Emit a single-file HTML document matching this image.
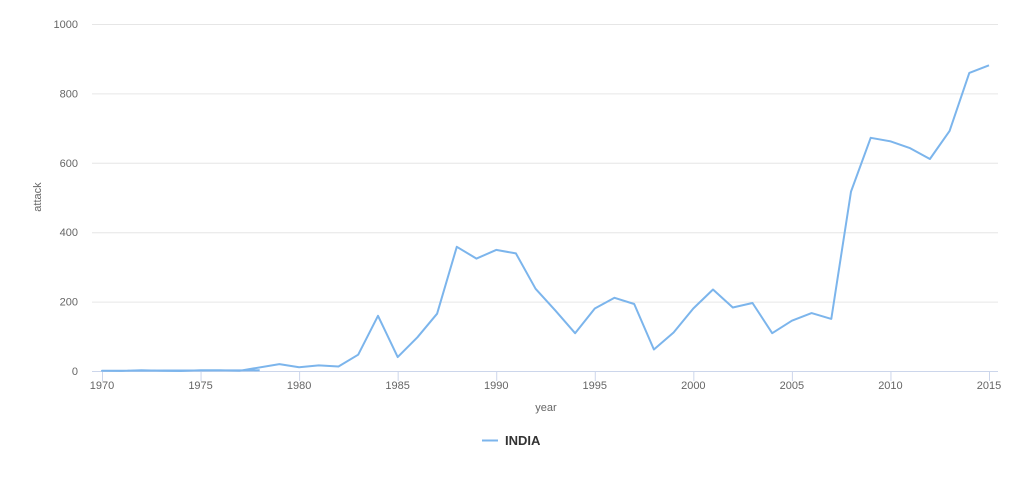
<!DOCTYPE html>
<html><head><meta charset="utf-8"><style>
body{margin:0;background:#fff;font-family:"Liberation Sans",sans-serif}
svg text{font-family:"Liberation Sans",sans-serif}
</style></head><body>
<svg id="c" width="1022" height="482"></svg>
<script>
const years=[1978,1970,1971,1972,1973,1974,1975,1976,1977,1979,1980,1981,1982,1983,1984,1985,1986,1987,1988,1989,1990,1991,1992,1993,1994,1995,1996,1997,1998,1999,2000,2001,2002,2003,2004,2005,2006,2007,2008,2009,2010,2011,2012,2013,2014,2015];
const attacks=[2,1,0,2,1,0,2,2,1,20,11,16,13,47,159,40,97,165,358,324,349,339,237,174,109,180,211,193,62,111,180,235,183,196,109,145,167,150,517,672,662,642,611,692,859,881];
const yTicks=[0,200,400,600,800,1000];
const xTicks=[1970,1975,1980,1985,1990,1995,2000,2005,2010,2015];
const NS='http://www.w3.org/2000/svg',svg=document.getElementById('c');
const X0=92,X1=998,Y0=371,Y1=24;
const x=v=>102+(v-1970)*(989-102)/45;
const y=v=>Y0-(v/1000)*(Y0-Y1);
function mk(t,a,p){const e=document.createElementNS(NS,t);for(const k in a)e.setAttribute(k,a[k]);(p||svg).appendChild(e);return e;}
yTicks.forEach(t=>{
 if(t>0){const g=mk('line',{x1:X0,x2:X1,y1:y(t)+.5,y2:y(t)+.5,stroke:'#e6e6e6'});
 
 }
 const l=mk('text',{x:78,y:y(t)+4,'text-anchor':'end','font-size':11,fill:'#666'});l.textContent=t;
 
 
});
const ax=mk('line',{x1:X0,x2:X1,y1:Y0+.5,y2:Y0+.5,stroke:'#ccd6eb'});


xTicks.forEach(t=>{
 const k=mk('line',{x1:x(t)+.5,x2:x(t)+.5,y1:Y0,y2:Y0+10,stroke:'#ccd6eb'});
 
 
 const l=mk('text',{x:x(t),y:389,'text-anchor':'middle','font-size':11,fill:'#666'});l.textContent=t;
 
 
});
const xt=mk('text',{x:546,y:411,'text-anchor':'middle','font-size':11,fill:'#666'});xt.textContent='year';


const yt=mk('text',{x:41,y:197,'text-anchor':'middle','font-size':11,fill:'#666',transform:'rotate(-90 41 197)'});yt.textContent='attack';


const d=years.map((v,i)=>(i?'L':'M')+x(v).toFixed(1)+' '+y(attacks[i]).toFixed(1)).join(' ');
const p=mk('path',{d:d,fill:'none',stroke:'#7cb5ec','stroke-width':2,'stroke-linejoin':'round'});


const lg=mk('g',{});


mk('line',{x1:482,x2:498,y1:440.5,y2:440.5,stroke:'#7cb5ec','stroke-width':2},lg);
const lt=mk('text',{x:505,y:445,'font-size':13,'font-weight':'bold',fill:'#333'},lg);lt.textContent='INDIA';
</script>
</body></html>
